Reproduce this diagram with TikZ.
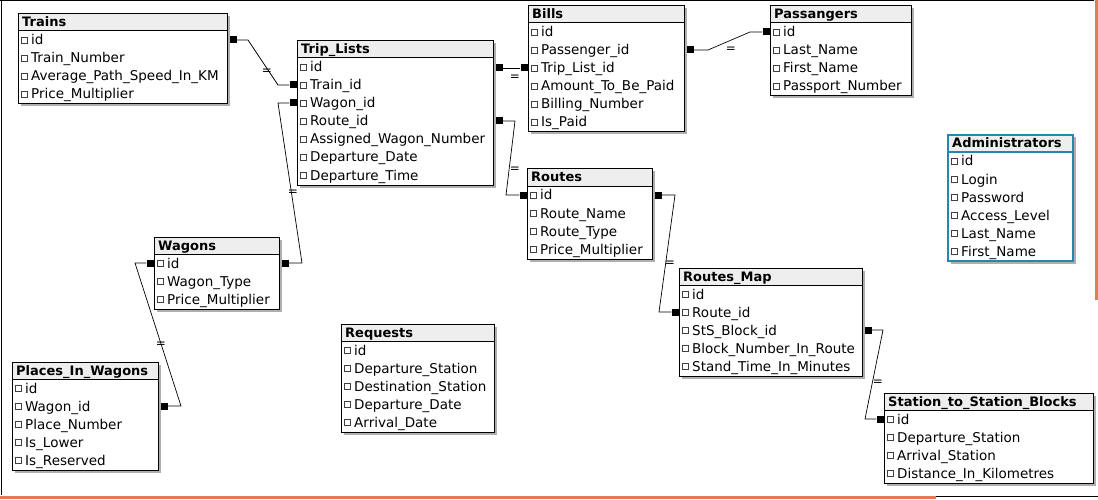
\documentclass[tikz,border=0pt]{standalone}
\usepackage{fontspec}
\setmainfont{DejaVu Sans}
\definecolor{headc}{RGB}{238,238,238}
\definecolor{shadowc}{RGB}{175,175,175}
\definecolor{adminc}{RGB}{35,135,175}
\definecolor{framec}{RGB}{226,125,82}
\tikzset{
  chk/.style={draw=black!75, line width=0.5pt, fill=white, minimum size=6pt, inner sep=0pt},
  fieldtxt/.style={anchor=base west, inner sep=0pt, font=\fontsize{13.5}{16}\selectfont},
  titletxt/.style={anchor=base west, inner sep=0pt, font=\fontsize{13}{16}\selectfont\bfseries},
  sqmark/.style={fill=black, minimum size=7pt, inner sep=0pt},
  conn/.style={draw=black, line width=0.7pt},
  eqlbl/.style={font=\fontsize{12}{14}\selectfont, inner sep=0pt},
}
% #1 name, #2 left, #3 right, #4 top, #5 n fields, #6 title, #7 fields, #8 border colour, #9 border width
\newcommand{\ertable}[9]{%
  \pgfmathsetmacro{\tw}{#3-#2}%
  \pgfmathsetmacro{\th}{18+18*#5}%
  \fill[shadowc] (#2+2.5,#4+2.5) rectangle (#3+2.5,#4+\th+2.5);
  \fill[white] (#2,#4) rectangle (#3,#4+\th);
  \fill[headc] (#2,#4) rectangle (#3,#4+17);
  \draw[#8, line width=#9] (#2,#4+17) -- (#3,#4+17);
  \node[draw=#8, line width=#9, minimum width=\tw pt, minimum height=\th pt, anchor=north west, inner sep=0pt, outer sep=0pt] (#1) at (#2,#4) {};
  \node[titletxt] (#1-title) at (#2+4,#4+13) {#6};
  \foreach \f [count=\i] in {#7} {
    \node[chk] (#1-b\i) at (#2+6,#4+17+9+18*\i-18) {};
    \node[fieldtxt] (#1-f\i) at (#2+13,#4+17+14+18*\i-18) {\f};
  }
}
\begin{document}
\begin{tikzpicture}[x=1pt,y=-1pt]
\useasboundingbox (0,0) rectangle (1098,500);
\fill[white] (0,0) rectangle (1098,500);

% frame
\draw[black, line width=1.2pt] (0,0.8) -- (1094,0.8);
\draw[black, line width=1pt] (1.2,0) -- (1.2,495);
\draw[framec, line width=3pt] (1096,0) -- (1096,300);
\draw[framec, line width=3pt] (0,497) -- (936,497);
\draw[black, line width=1pt] (936,496.5) -- (1098,496.5);

% tables
\ertable{trains}{18}{227}{14}{4}{Trains}{id,Train\_Number,Average\_Path\_Speed\_In\_KM,Price\_Multiplier}{black}{1pt}
\ertable{trip}{297}{493}{41}{7}{Trip\_Lists}{id,Train\_id,Wagon\_id,Route\_id,Assigned\_Wagon\_Number,Departure\_Date,Departure\_Time}{black}{1pt}
\ertable{bills}{528}{684}{6}{6}{Bills}{id,Passenger\_id,Trip\_List\_id,Amount\_To\_Be\_Paid,Billing\_Number,Is\_Paid}{black}{1pt}
\ertable{pass}{770}{911}{6}{4}{Passangers}{id,Last\_Name,First\_Name,Passport\_Number}{black}{1pt}
\ertable{admin}{948}{1073}{135}{6}{Administrators}{id,Login,Password,Access\_Level,Last\_Name,First\_Name}{adminc}{2pt}
\ertable{routes}{527}{652}{169}{4}{Routes}{id,Route\_Name,Route\_Type,Price\_Multiplier}{black}{1pt}
\ertable{wagons}{154}{279}{237}{3}{Wagons}{id,Wagon\_Type,Price\_Multiplier}{black}{1pt}
\ertable{places}{12}{158}{362}{5}{Places\_In\_Wagons}{id,Wagon\_id,Place\_Number,Is\_Lower,Is\_Reserved}{black}{1pt}
\ertable{requests}{341}{494}{324}{5}{Requests}{id,Departure\_Station,Destination\_Station,Departure\_Date,Arrival\_Date}{black}{1pt}
\ertable{rmap}{679}{862}{268}{5}{Routes\_Map}{id,Route\_id,StS\_Block\_id,Block\_Number\_In\_Route,Stand\_Time\_In\_Minutes}{black}{1pt}
\ertable{stsb}{884}{1093}{393}{4}{Station\_to\_Station\_Blocks}{id,Departure\_Station,Arrival\_Station,Distance\_In\_Kilometres}{black}{1pt}

% connector end marks
\node[sqmark] (m1a) at (233,40) {};
\node[sqmark] (m1b) at (293,85) {};
\node[sqmark] (m2a) at (285,263) {};
\node[sqmark] (m2b) at (293,103) {};
\node[sqmark] (m3a) at (499,68) {};
\node[sqmark] (m3b) at (524,68) {};
\node[sqmark] (m4a) at (690,50) {};
\node[sqmark] (m4b) at (766,32) {};
\node[sqmark] (m5a) at (499,121) {};
\node[sqmark] (m5b) at (523,195) {};
\node[sqmark] (m6a) at (658,195) {};
\node[sqmark] (m6b) at (675,312) {};
\node[sqmark] (m7a) at (868,330) {};
\node[sqmark] (m7b) at (880,419) {};
\node[sqmark] (m8a) at (150,263) {};
\node[sqmark] (m8b) at (164,406) {};

% connectors
\draw[conn] (m1a) -- (248,40) -- (278,85) -- (m1b);
\draw[conn] (m2a) -- (302,263) -- (278,103) -- (m2b);
\draw[conn] (m3a) -- (m3b);
\draw[conn] (m4a) -- (708,50) -- (750,32) -- (m4b);
\draw[conn] (m5a) -- (515,121) -- (506,195) -- (m5b);
\draw[conn] (m6a) -- (675,195) -- (659,312) -- (m6b);
\draw[conn] (m7a) -- (883,330) -- (865,419) -- (m7b);
\draw[conn] (m8a) -- (135,263) -- (181,406) -- (m8b);

% labels
\node[eqlbl] (e1) at (267,72) {=};
\node[eqlbl] (e2) at (293,193) {=};
\node[eqlbl] (e3) at (515,78) {=};
\node[eqlbl] (e4) at (731,50) {=};
\node[eqlbl] (e5) at (515,170) {=};
\node[eqlbl] (e6) at (670,264) {=};
\node[eqlbl] (e7) at (878,383) {=};
\node[eqlbl] (e8) at (161,345) {=};
\end{tikzpicture}
\end{document}
